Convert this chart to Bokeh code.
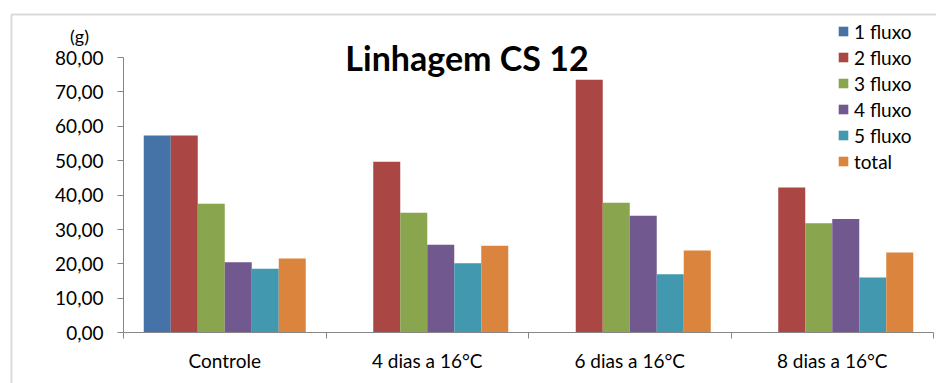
from bokeh.plotting import figure
from bokeh.models import (ColumnDataSource, Range1d, FixedTicker, CustomJSTickFormatter,
                          Legend, LegendItem, Label, BoxAnnotation, LinearAxis)
from bokeh.transform import dodge
from bokeh.embed import file_html
from bokeh.resources import INLINE

# ---- data -------------------------------------------------------------
categories = ["Controle", "4 dias a 16°C", "6 dias a 16°C", "8 dias a 16°C"]
series_names = ["1 fluxo", "2 fluxo", "3 fluxo", "4 fluxo", "5 fluxo", "total"]
fluxo_1 = [57.3, 0.0, 0.0, 0.0]
fluxo_2 = [57.3, 49.7, 73.5, 42.2]
fluxo_3 = [37.5, 34.9, 37.8, 31.8]
fluxo_4 = [20.5, 25.6, 34.0, 33.1]
fluxo_5 = [18.6, 20.2, 17.0, 16.1]
total = [21.6, 25.3, 23.9, 23.3]
y_ticks = [0, 10, 20, 30, 40, 50, 60, 70, 80]
y_max = 80

colors = ["#4572A7", "#AA4643", "#89A54E", "#71588F", "#4198AF", "#DB843D"]
FONT = "Lato"
GRAY = "#868686"

values = [fluxo_1, fluxo_2, fluxo_3, fluxo_4, fluxo_5, total]
n_cat = len(categories)
centers = [i + 0.5 for i in range(n_cat)]
data = {"pos": centers}
for name, vals in zip(series_names, values):
    data[name] = vals
source = ColumnDataSource(data)

# The frame fills the whole canvas; axes sit at fixed data positions so that
# title, unit label, legend and the chart border can live around the bars.
W, H = 936, 383
plot_left, plot_right = 123, 933      # pixel extent of the category axis
plot_top, plot_bottom = 57.0, 332.3   # pixel extent of 0..80
px_x = (plot_right - plot_left) / n_cat
px_y = (plot_bottom - plot_top) / y_max
x_range = Range1d(-plot_left / px_x, (W - plot_left) / px_x)
y_range = Range1d(-(H - plot_bottom) / px_y, plot_bottom / px_y)

p = figure(width=W, height=H, output_backend="svg", toolbar_location=None,
           x_range=x_range, y_range=y_range, x_axis_type=None, y_axis_type=None,
           min_border=0, min_border_left=0, min_border_right=0,
           min_border_top=0, min_border_bottom=0)
p.outline_line_color = None
p.grid.visible = False
p.background_fill_color = "white"
p.border_fill_color = "white"

# chart area border
p.add_layout(BoxAnnotation(left=(11 - plot_left) / px_x, right=50,
                           top=(plot_bottom - 14) / px_y, bottom=-500,
                           fill_color=None, line_color=GRAY, line_width=2))

# bars: six adjacent bars per group, gap of 1.5 bar widths between groups
bar_w = 1.0 / 7.5
renderers = []
for j, (name, col) in enumerate(zip(series_names, colors)):
    off = (j - 2.5) * bar_w
    r = p.vbar(x=dodge("pos", off), top=name, width=bar_w, source=source,
               fill_color=col, line_color=None)
    renderers.append(r)

# y axis
yax = LinearAxis(fixed_location=0, bounds=(0, y_max))
yax.ticker = FixedTicker(ticks=y_ticks)
yax.formatter = CustomJSTickFormatter(code="return tick.toFixed(2).replace('.', ',');")
yax.axis_line_color = GRAY
yax.major_tick_line_color = GRAY
yax.major_tick_out = 6
yax.major_tick_in = 0
yax.minor_tick_line_color = None
yax.major_label_text_font = FONT
yax.major_label_text_font_size = "19px"
yax.major_label_text_color = "black"
yax.major_label_standoff = 14
p.add_layout(yax, "left")

# x axis: labels at group centers, tick marks at group boundaries
xax = LinearAxis(fixed_location=0, bounds=(0, n_cat))
xax.ticker = FixedTicker(ticks=centers, minor_ticks=list(range(n_cat + 1)))
xax.major_label_overrides = {c: name for c, name in zip(centers, categories)}
xax.axis_line_color = GRAY
xax.major_tick_line_color = None
xax.minor_tick_line_color = GRAY
xax.minor_tick_out = 6
xax.minor_tick_in = 0
xax.major_label_text_font = FONT
xax.major_label_text_font_size = "19px"
xax.major_label_text_color = "black"
xax.major_label_standoff = 10
p.add_layout(xax, "below")

# title and unit label
p.add_layout(Label(x=(466.5 - plot_left) / px_x, y=y_max, text="Linhagem CS 12",
                   text_font=FONT, text_font_size="34px", text_font_style="bold",
                   text_align="center", text_baseline="middle", text_color="black"))
p.add_layout(Label(x=(79 - plot_left) / px_x, y=(plot_bottom - 35) / px_y, text="(g)",
                   text_font=FONT, text_font_size="18px", text_align="center",
                   text_baseline="middle", text_color="black"))

# legend
legend = Legend(items=[LegendItem(label=n, renderers=[r])
                       for n, r in zip(series_names, renderers)],
                location=(837, H - 173), glyph_width=12, glyph_height=12,
                label_text_font=FONT, label_text_font_size="19px",
                label_text_color="black", label_standoff=5, label_height=24,
                spacing=2, padding=0, margin=0, border_line_color=None,
                background_fill_alpha=0)
p.add_layout(legend)

open("out.html", "w").write(file_html(p, INLINE))
